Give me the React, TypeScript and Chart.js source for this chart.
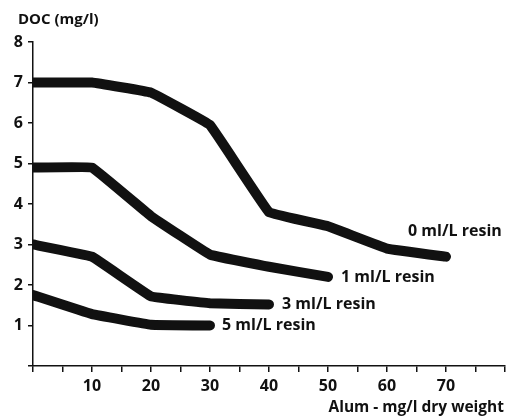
import React, { useEffect, useRef } from "react";
import { Chart, registerables } from "chart.js";

Chart.register(...registerables);

const xValues = [0, 10, 20, 30, 40, 50, 60, 70];
const resin0 = [7.0, 7.0, 6.75, 5.95, 3.8, 3.45, 2.9, 2.7];
const resin1 = [4.9, 4.9, 3.7, 2.75, 2.45, 2.2];
const resin3 = [3.0, 2.7, 1.72, 1.55, 1.52];
const resin5 = [1.75, 1.28, 1.02, 1.0];
const seriesLabels = ["0 ml/L resin", "1 ml/L resin", "3 ml/L resin", "5 ml/L resin"];
const yTitle = "DOC (mg/l)";
const xTitle = "Alum - mg/l dry weight";

const labelOffsets = [
  { dx: -38, dy: -25 },
  { dx: 13, dy: 1 },
  { dx: 13, dy: 0 },
  { dx: 12, dy: 0 },
];

const FONT = "'Open Sans', 'DejaVu Sans', sans-serif";

function toPoints(ys: number[]) {
  return ys.map((y, i) => ({ x: xValues[i], y }));
}

const labelPlugin = {
  id: "labels",
  afterDatasetsDraw(chart: any) {
    const ctx = chart.ctx;
    ctx.save();
    ctx.fillStyle = "#111";
    ctx.font = `bold 16px ${FONT}`;
    ctx.textBaseline = "middle";
    ctx.textAlign = "left";
    chart.data.datasets.forEach((ds: any, i: number) => {
      const meta = chart.getDatasetMeta(i);
      const last = meta.data[meta.data.length - 1];
      const off = labelOffsets[i];
      ctx.fillText(seriesLabels[i], last.x + off.dx, last.y + off.dy);
    });
    // axis titles
    ctx.font = `bold 15px ${FONT}`;
    ctx.fillText(yTitle, 18, 20);
    ctx.font = `bold 15.5px ${FONT}`;
    ctx.textAlign = "right";
    ctx.fillText(xTitle, chart.chartArea.right - 1, 408);
    ctx.restore();
  },
};

export default function App() {
  const ref = useRef<HTMLCanvasElement>(null);
  useEffect(() => {
    const mk = (ys: number[]) => ({
      data: toPoints(ys),
      borderColor: "#111",
      borderWidth: 10,
      borderCapStyle: "round",
      borderJoinStyle: "round",
      pointRadius: 0,
      tension: 0.05,
      fill: false,
      clip: { left: 0, right: false, top: false, bottom: false },
    });
    const chart = new Chart(ref.current!, {
      type: "line",
      data: {
        datasets: [mk(resin0), mk(resin1), mk(resin3), mk(resin5)] as any,
      },
      options: {
        animation: false,
        responsive: false,
        maintainAspectRatio: false,
        layout: { padding: { top: 42, right: 10, left: 0, bottom: 0 } },
        plugins: { legend: { display: false }, tooltip: { enabled: false } },
        scales: {
          x: {
            type: "linear",
            min: 0,
            max: 80,
            border: { color: "#111", width: 1.5 },
            grid: { drawOnChartArea: false, drawTicks: true, tickLength: 6, color: "#111", lineWidth: 1.5 },
            ticks: {
              stepSize: 5,
              color: "#111",
              padding: 5,
              maxRotation: 0,
              autoSkip: false,
              font: { family: FONT, size: 16, weight: "bold" },
              callback: (v: any) => (v % 10 === 0 && v > 0 && v < 80 ? String(v) : ""),
            },
            afterFit: (s: any) => {
              s.height = 54;
            },
          },
          y: {
            min: 0,
            max: 8,
            border: { color: "#111", width: 1.5 },
            grid: { drawOnChartArea: false, drawTicks: true, tickLength: 5, color: "#111", lineWidth: 1.5 },
            ticks: {
              stepSize: 1,
              color: "#111",
              padding: 5,
              font: { family: FONT, size: 16, weight: "bold" },
              callback: (v: any) => (v === 0 ? "" : String(v)),
            },
            afterFit: (s: any) => {
              s.width = 33;
            },
          },
        },
      } as any,
      plugins: [labelPlugin],
    });
    return () => chart.destroy();
  }, []);
  return (
    <div style={{ position: "fixed", left: 0, top: 0, width: 515, height: 420, background: "#fff" }}>
      <canvas ref={ref} width={515} height={420} style={{ width: 515, height: 420 }} />
    </div>
  );
}
